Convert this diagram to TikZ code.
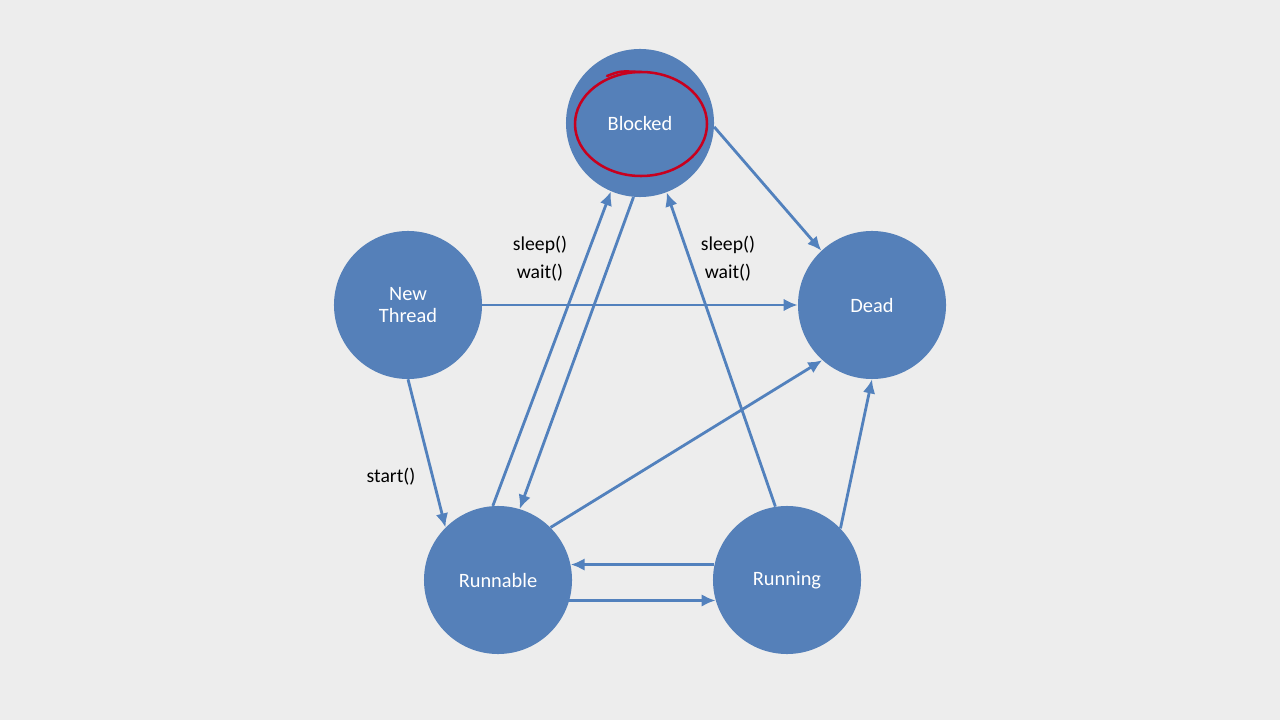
\documentclass[tikz,border=0pt]{standalone}
\usepackage{fontspec}
\setmainfont{Carlito}
\usepackage{xcolor}
\usetikzlibrary{arrows.meta}

\definecolor{bgrey}{HTML}{EDEDED}
\definecolor{sblue}{HTML}{5580B9}
\definecolor{ablue}{HTML}{5281BD}
\definecolor{penred}{HTML}{C8001E}

\begin{document}
\begin{tikzpicture}[x=0.025cm, y=-0.025cm,
    state/.style={circle, fill=sblue, minimum size=3.7cm, inner sep=0pt, text=white, align=center, font=\fontsize{14.5}{15}\selectfont},
    flow/.style={draw=ablue, line width=2pt, -{Latex[length=10pt, width=9pt]}},
    call/.style={align=center, font=\fontsize{14}{20}\selectfont}]

    % Background
    \fill[bgrey] (0, 0) rectangle (1280, 720);
    \useasboundingbox (0, 0) rectangle (1280, 720);

    % Draw the states
    \node[state] (blocked) at (640, 123) {Blocked};
    \node[state] (newthread) at (408, 305) {New\\Thread};
    \node[state] (dead) at (872, 305) {Dead};
    \node[state] (runnable) at (498, 580) {Runnable};
    \node[state] (running) at (787, 580) {Running};

    % Transitions
    \draw[flow] (blocked.-3) -- (dead.133);
    \draw[flow] (newthread.0) -- (dead.180);
    \draw[flow] (newthread.-90) -- (runnable.135);
    \draw[flow] (runnable.94) -- (blocked.-113);
    \draw[flow] (blocked.-95) -- (runnable.73);
    \draw[flow] (running.99) -- (blocked.-69);
    \draw[flow] (runnable.45) -- (dead.-132);
    \draw[flow] (running.44) -- (dead.-90);
    \draw[flow] (running.168) -- (runnable.12);
    \draw[flow] (runnable.-16) -- (running.-164);

    % Labels on the transitions
    \node[call] (sleepl) at (540, 259) {sleep()\\wait()};
    \node[call] (sleepr) at (728, 259) {sleep()\\wait()};
    \node[call] (start) at (391, 477) {start()};

    % Red pen mark round Blocked
    \draw[penred, line width=1.8pt, line cap=round] (641, 124) ellipse (66 and 52);
    \draw[penred, line width=1.8pt, line cap=round] (607, 76) .. controls (620, 71) .. (640, 72);

\end{tikzpicture}
\end{document}
